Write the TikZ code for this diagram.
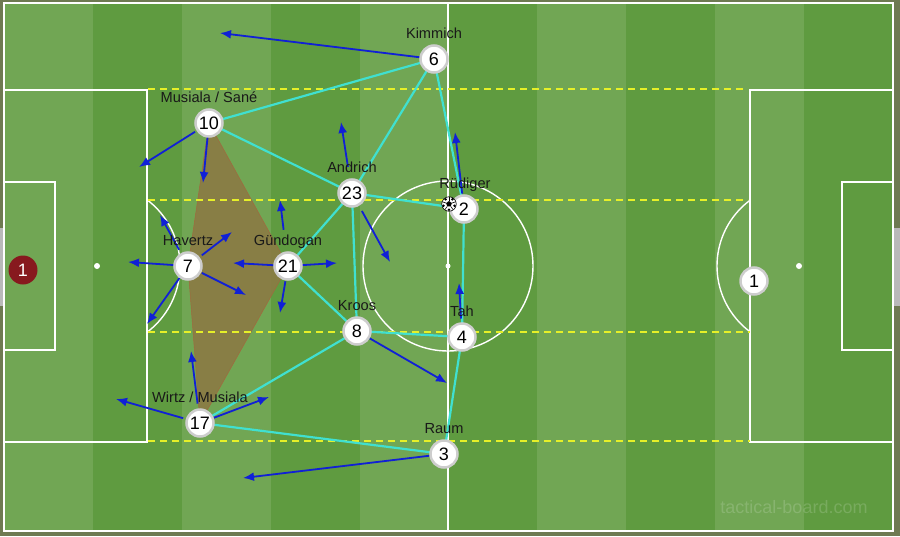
\documentclass[tikz,border=0pt]{standalone}
\usepackage{fontspec}
\setmainfont{Liberation Sans}
\usetikzlibrary{arrows.meta}
\definecolor{framec}{RGB}{110,122,82}
\definecolor{lightg}{RGB}{113,166,84}
\definecolor{darkg}{RGB}{95,155,64}
\definecolor{cyanl}{RGB}{64,224,208}
\definecolor{bluea}{RGB}{16,32,214}
\definecolor{yel}{RGB}{230,240,40}
\definecolor{rim}{RGB}{205,205,205}
\definecolor{gk}{RGB}{135,25,30}
\definecolor{zone}{RGB}{138,124,68}
\definecolor{zoneedge}{RGB}{160,105,62}
\definecolor{lbltext}{RGB}{25,25,25}
\pgfdeclarelayer{field}
\pgfdeclarelayer{links}
\pgfsetlayers{field,links,main}
\begin{document}
\begin{tikzpicture}[x=1pt,y=-1pt,
 pline/.style={white,line width=1.4pt},
 yd/.style={yel,line width=1.6pt,dash pattern=on 7pt off 5pt},
 link/.style={cyanl,line width=2.2pt},
 run/.style={bluea,line width=1.8pt,-{Latex[length=11pt,width=9pt]}},
 player/.style={circle,fill=white,draw=rim,line width=2.5pt,minimum size=27pt,inner sep=0pt,outer sep=0pt,font=\fontsize{18}{20}\selectfont},
 lbl/.style={anchor=base,inner sep=0pt,font=\fontsize{14.6}{16}\selectfont,text=lbltext}]
\useasboundingbox (0,0) rectangle (900,536);
% players
\node[player] (n6) at (434,59) {6};
\node[player] (n10) at (209,123) {10};
\node[player] (n23) at (352,193) {23};
\node[player] (n2) at (464,209) {2};
\node[player] (n7) at (188,266) {7};
\node[player] (n21) at (288,266) {21};
\node[player] (n8) at (357,331) {8};
\node[player] (n4) at (462,337) {4};
\node[player] (n17) at (200,423) {17};
\node[player] (n3) at (444,454) {3};
\node[player] (n1r) at (754,281) {1};
\node[circle,fill=gk,minimum size=29pt,inner sep=0pt,outer sep=0pt,text=white,font=\fontsize{18}{20}\selectfont] (n1l) at (23,270) {1};
% labels
\node[lbl] (l6) at (434,38) {Kimmich};
\node[lbl] (l10) at (209,102) {Musiala / Sané};
\node[lbl] (l23) at (352,172) {Andrich};
\node[lbl] (l2) at (465,188) {Rüdiger};
\node[lbl] (l7) at (188,245) {Havertz};
\node[lbl] (l21) at (288,245) {Gündogan};
\node[lbl] (l8) at (357,310) {Kroos};
\node[lbl] (l4) at (462,316) {Tah};
\node[lbl] (l17) at (200,402) {Wirtz / Musiala};
\node[lbl] (l3) at (444,433) {Raum};
% ball
\node[circle,fill=white,draw=black,line width=0.6pt,minimum size=14.5pt,inner sep=0pt] (ball) at (449,204) {};
\begin{scope}[shift={(449,204)}]
\fill[black] (-90:3) -- (-18:3) -- (54:3) -- (126:3) -- (198:3) -- cycle;
\foreach \a in {-90,-18,54,126,198} \draw[black,line width=0.6pt] (\a:3) -- (\a:6.8);
\foreach \a in {-54,18,90,162,234} \fill[black] (\a:5.8) circle[radius=1.4pt];
\end{scope}
% watermark
\node[text=white,opacity=0.16,font=\fontsize{18}{20}\selectfont] (wm) at (794,507) {tactical-board.com};

\begin{pgfonlayer}{field}
\fill[framec] (0,0) rectangle (900,536);
\fill[lightg] (4,3) rectangle (893,531);
\foreach \i in {1,3,5,7,9} \fill[darkg] ({4+\i*88.9},3) rectangle ({4+(\i+1)*88.9},531);
\fill[gray!55] (0,228) rectangle (4,306);
\fill[gray!55] (894,228) rectangle (900,306);
\draw[pline] (4,3) rectangle (893,531);
\draw[pline] (448,3) -- (448,531);
\draw[pline] (448,266) circle[radius=85pt];
\fill[white] (448,266) circle[radius=2.5pt];
\draw[pline] (4,90) rectangle (147,442);
\draw[pline] (4,182) rectangle (55,350);
\fill[white] (97,266) circle[radius=3pt];
\begin{scope}
\clip (147,0) rectangle (400,536);
\draw[pline] (97,266) circle[radius=83pt];
\end{scope}
\draw[pline] (750,90) rectangle (893,442);
\draw[pline] (842,182) rectangle (893,350);
\fill[white] (799,266) circle[radius=3pt];
\begin{scope}
\clip (600,0) rectangle (750,536);
\draw[pline] (799,266) circle[radius=82pt];
\end{scope}
% zone
\fill[zone,fill opacity=0.93] (n10.center) -- (n21.center) -- (n17.center) -- (n7.center) -- cycle;
\draw[zoneedge,line width=0.5pt] (n10.center) -- (n21.center) -- (n17.center) -- (n7.center) -- cycle;
% dashed lines
\draw[yd] (148,89) -- (745,89);
\draw[yd] (148,200) -- (748,200);
\draw[yd] (148,332) -- (750,332);
\draw[yd] (148,441) -- (750,441);
\end{pgfonlayer}

\begin{pgfonlayer}{links}
\draw[link] (n6) -- (n10);
\draw[link] (n6) -- (n23);
\draw[link] (n6) -- (n2);
\draw[link] (n10) -- (n23);
\draw[link] (n23) -- (n2);
\draw[link] (n23) -- (n21);
\draw[link] (n23) -- (n8);
\draw[link] (n21) -- (n8);
\draw[link] (n2) -- (n4);
\draw[link] (n8) -- (n4);
\draw[link] (n8) -- (n17);
\draw[link] (n4) -- (n3);
\draw[link] (n17) -- (n3);
% runs
\coordinate (a6) at (220,33);
\coordinate (a10a) at (139,167);
\coordinate (a10b) at (203,183);
\coordinate (a23a) at (341,122);
\coordinate (a23b) at (390,262);
\coordinate (a2) at (455,132);
\coordinate (a21l) at (233,263);
\coordinate (a21r) at (337,263);
\coordinate (a21u) at (280,200);
\coordinate (a21d) at (280,313);
\coordinate (a7l) at (128,262);
\coordinate (a7ur) at (232,232);
\coordinate (a7ul) at (160,215);
\coordinate (a7dl) at (147,324);
\coordinate (a7dr) at (246,295);
\coordinate (a17u) at (191,351);
\coordinate (a17l) at (116,399);
\coordinate (a17r) at (269,397);
\coordinate (a3) at (243,478);
\coordinate (a8) at (447,383);
\coordinate (a4) at (459,283);
\draw[run] (n6) -- (a6);
\draw[run,shorten <=3pt] (n10) -- (a10a);
\draw[run] (n10) -- (a10b);
\draw[run,shorten <=13pt] (n23) -- (a23a);
\draw[run,shorten <=7pt] (n23) -- (a23b);
\draw[run,shorten <=2pt] (n2) -- (a2);
\draw[run] (n21) -- (a21l);
\draw[run] (n21) -- (a21r);
\draw[run,shorten <=23pt] (n21) -- (a21u);
\draw[run,shorten <=2pt] (n21) -- (a21d);
\draw[run] (n7) -- (a7l);
\draw[run,shorten <=4pt] (n7) -- (a7ur);
\draw[run,shorten <=5pt] (n7) -- (a7ul);
\draw[run,shorten <=1pt] (n7) -- (a7dl);
\draw[run,shorten <=2pt] (n7) -- (a7dr);
\draw[run,shorten <=6pt] (n17) -- (a17u);
\draw[run,shorten <=4pt] (n17) -- (a17l);
\draw[run,shorten <=1pt] (n17) -- (a17r);
\draw[run,shorten <=1pt] (n3) -- (a3);
\draw[run,shorten <=1pt] (n8) -- (a8);
\draw[run,shorten <=5pt] (n4) -- (a4);
\end{pgfonlayer}
\end{tikzpicture}
\end{document}
